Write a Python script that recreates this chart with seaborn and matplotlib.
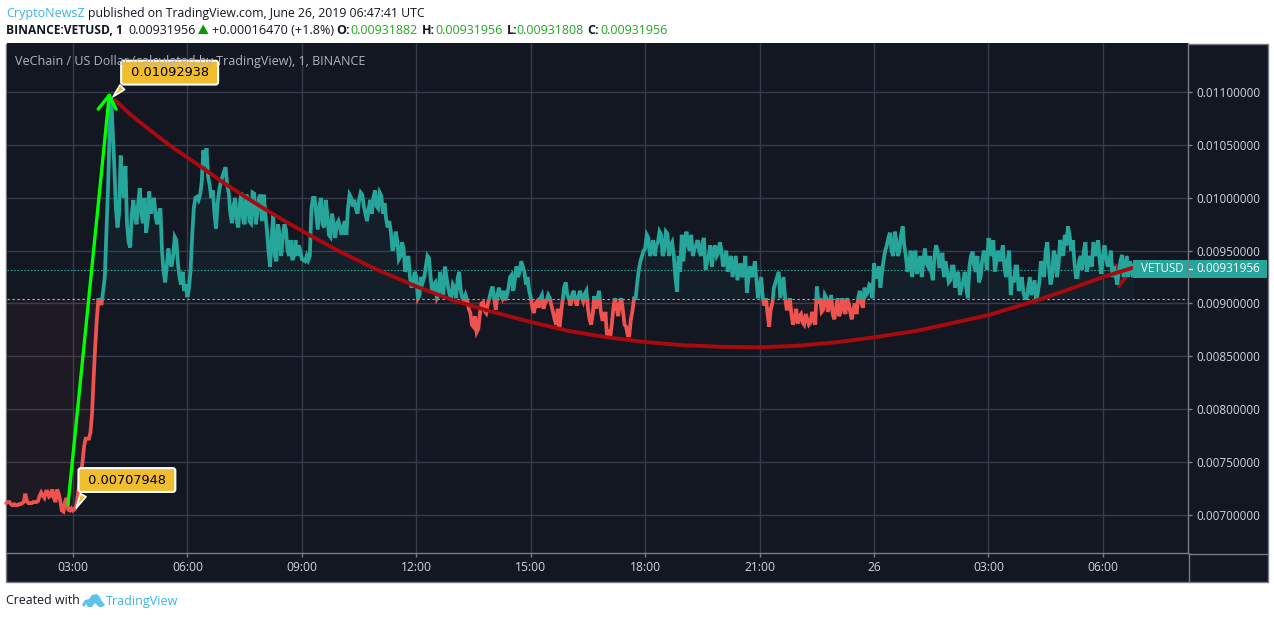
import numpy as np
import pandas as pd
import matplotlib
matplotlib.use("Agg")
import matplotlib.pyplot as plt
from matplotlib.patches import Rectangle, Polygon
from matplotlib.lines import Line2D
import seaborn as sns

W, H = 1274, 618
BG = "#131722"; GRID = "#363c4e"; TXT = "#d1d4dc"; EDGE = "#787b86"
TEAL = "#26a69a"; RED = "#ef5350"; DARKRED = "#a80a0f"; LIME = "#00ff00"
GOLD = "#f0bd2e"; BLUE = "#3bb3e4"; GREEN = "#1fa81f"

start_hour = 1.25
step_hours = 1 / 24
# prices in 1e-5 USD: p_* on the 5-minute marks, q_* between them
p_early = [711,712,709,709,710,711,720,711,711,712,713,721,716,722,718,716,724,713,703,716,704]
q_early = [712,710,710,709,710,712,713,711,712,712,718,718,722,717,724,712,720,704,712,705,706]
p_h03 = [704,708,730,750,772,772,796,860,905,900,925,1007]
q_h03 = [705,718,740,765,772,778,830,885,900,912,965,1060]
p_h04 = [1095,1030,972,1040,1000,975,953,998,975,1009,976,967]
q_h04 = [1064,990,985,1010,1030,958,985,982,995,985,1000,978]
p_h05 = [1006,995,982,985,950,920,952,935,963,938,918,912]
q_h05 = [985,1000,975,990,930,935,940,945,960,925,930,918]
p_h06 = [906,932,990,1001,1003,1045,1047,1012,1007,971,1007,1020]
q_h06 = [915,965,1000,998,1015,1030,1020,1000,985,995,1015,1025]
p_h07 = [1029,1005,976,1000,972,1005,975,1000,976,1004,985,1003]
q_h07 = [1012,985,992,978,995,980,1003,978,1005,975,1000,978]
p_h08 = [1003,970,935,985,940,965,962,970,945,941,960,955]
q_h08 = [985,950,962,945,975,945,975,950,960,945,945,950]
p_h09 = [942,940,941,990,1000,970,1000,972,985,963,975,975]
q_h09 = [941,945,945,1000,985,992,975,998,965,985,962,978]
p_h10 = [972,973,965,1003,992,990,998,1003,985,990,985,1007]
q_h10 = [965,978,990,1000,998,985,1005,992,978,998,1000,992]
p_h11 = [990,1002,995,972,968,955,960,945,952,935,925,920]
q_h11 = [1005,985,980,978,950,968,942,958,930,945,915,930]
p_h12 = [925,908,920,935,943,910,920,908,915,935,915,906]
q_h12 = [905,925,925,945,925,918,905,930,908,925,908,918]
p_h13 = [915,924,912,903,903,891,878,873,890,901,891,905]
q_h13 = [905,930,905,908,895,880,888,876,900,893,900,912]
p_h14 = [916,894,915,905,903,915,927,922,925,940,930,925]
q_h14 = [905,908,908,912,908,925,912,935,930,935,918,912]
p_h15 = [906,891,902,905,895,903,905,892,880,875,903,920]
q_h15 = [896,900,896,908,900,908,898,885,895,890,915,908]
p_h16 = [905,908,903,907,906,909,895,880,907,905,893,885]
q_h16 = [898,912,898,912,902,912,885,890,895,912,885,892]
p_h17 = [868,868,896,896,900,893,878,870,893,905,932,945]
q_h17 = [875,880,905,888,905,880,870,885,905,920,940,950]
p_h18 = [952,962,950,945,958,965,950,966,955,945,911,930]
q_h18 = [965,945,960,955,968,945,968,945,958,925,945,965]
p_h19 = [940,968,950,945,955,950,958,932,945,935,955,948]
q_h19 = [960,955,965,952,960,945,962,940,955,950,945,958]
p_h20 = [950,940,930,945,935,922,938,930,910,935,930,922]
q_h20 = [935,950,940,925,945,930,925,945,925,925,940,905]
p_h21 = [915,905,905,878,900,920,930,915,906,895,890,885]
q_h21 = [925,898,890,895,915,925,905,925,895,905,880,895]
p_h22 = [881,890,880,885,882,885,916,905,894,905,900,890]
q_h22 = [888,882,890,880,892,880,900,892,908,892,908,885]
p_h23 = [895,888,905,890,900,885,900,905,901,915,910,917]
q_h23 = [905,892,897,905,892,895,890,912,896,908,918,905]
p_h24 = [938,925,915,941,955,967,945,960,950,973,945,935]
q_h24 = [925,935,930,950,962,950,968,945,965,955,930,950]
p_h25 = [925,950,935,925,952,935,930,945,950,935,925,930]
q_h25 = [940,928,945,940,938,945,922,955,935,948,940,920]
p_h26 = [922,935,925,908,920,915,935,949,930,920,940,945]
q_h26 = [935,915,930,915,930,905,945,935,945,925,950,932]
p_h27 = [962,945,930,950,945,935,940,908,920,935,915,910]
q_h27 = [950,960,940,940,955,925,950,925,935,912,925,905]
p_h28 = [905,925,915,903,920,935,950,935,925,945,935,955]
q_h28 = [915,908,922,910,940,925,958,918,950,925,960,945]
p_h29 = [965,973,950,940,925,945,950,930,945,958,945,940]
q_h29 = [955,965,960,925,940,932,958,940,935,950,960,928]
p_h30 = [945,943,940,925,927,930,946,935,925,935,932]
q_h30 = [955,935,950,935,918,940,925,945,940,925]

p_blocks = [p_early,p_h03,p_h04,p_h05,p_h06,p_h07,p_h08,p_h09,p_h10,p_h11,p_h12,p_h13,p_h14,
            p_h15,p_h16,p_h17,p_h18,p_h19,p_h20,p_h21,p_h22,p_h23,p_h24,p_h25,p_h26,p_h27,
            p_h28,p_h29,p_h30]
q_blocks = [q_early,q_h03,q_h04,q_h05,q_h06,q_h07,q_h08,q_h09,q_h10,q_h11,q_h12,q_h13,q_h14,
            q_h15,q_h16,q_h17,q_h18,q_h19,q_h20,q_h21,q_h22,q_h23,q_h24,q_h25,q_h26,q_h27,
            q_h28,q_h29,q_h30]

baseline = 904
last_price = 931.956
peak = 1092.938
trough = 707.948

# drawn trend curve
trend_h = [4.10,4.5,5.02,5.6,6.33,7.0,7.56,8.09,8.6,9.19,10.0,10.97,12.04,12.96,14,15,16,17,18,19,20,21,22,23.1,24,25.1,26,27,28.27,29,30,30.76]
trend_p = [1092.5,1079,1064,1048,1030,1013,1000,988,977,965,949,932,915.6,903,892,882.5,874,868,863.5,860.5,859,858.5,860,863.6,868,874,881,889,903,912,925,933.6]
trend_tip_a_h = [30.42,30.7]
trend_tip_a_p = [916.6,930]
trend_tip_b_h = [30.23,30.76]
trend_tip_b_p = [937,931]
# drawn green arrow
arrow_h = [2.87,3.95]
arrow_p = [710,1097]
arrow_left_h = [3.66,3.95]
arrow_left_p = [1084,1097]
arrow_right_h = [4.13,3.95]
arrow_right_p = [1084,1097]

xticks_h = [3,6,9,12,15,18,21,24,27,30]
xtick_labels = ["03:00","06:00","09:00","12:00","15:00","18:00","21:00","26","03:00","06:00"]
yticks_p = [700,750,800,850,900,950,1000,1050,1100]

P = np.concatenate(p_blocks).astype(float)
Q = np.concatenate(q_blocks).astype(float)
prices = np.empty(len(P) + len(Q))
prices[::2] = P
prices[1::2] = Q
df = pd.DataFrame({"hour": start_hour + np.arange(len(prices)) * step_hours, "price": prices})

sns.set_theme(style="dark")
plt.rcParams["font.family"] = ["Open Sans", "DejaVu Sans"]

fig = plt.figure(figsize=(W / 100, H / 100), dpi=100, facecolor="white")

def fx(x): return x / W
def fy(y): return 1 - y / H

fig.patches.append(Rectangle((fx(6.5), fy(581.5)), 1261 / W, 538 / H, transform=fig.transFigure,
                             fc=BG, ec=EDGE, lw=1, zorder=0))
ax = fig.add_axes([fx(7), fy(553), 1181 / W, 510 / H], facecolor=BG, zorder=1)
ax.set_xticks(xticks_h, xtick_labels)
ax.set_yticks(yticks_p, [f"{v / 1e5:.8f}" for v in yticks_p])
ax.set_xlim(1.27, 32.23)
ax.set_ylim(663.8, 1146.6)
ax.yaxis.tick_right()
ax.grid(True, color=GRID, lw=1)
ax.set_axisbelow(True)
ax.tick_params(axis="x", colors=TXT, labelsize=8.7, length=3, width=1, color=EDGE, pad=2.5, bottom=True)
ax.tick_params(axis="y", colors=TXT, labelsize=8.45, length=3, width=1, color=EDGE, pad=3, right=True, left=False)
for s in ["top", "left"]:
    ax.spines[s].set_visible(False)
for s in ["bottom", "right"]:
    ax.spines[s].set_color(EDGE); ax.spines[s].set_linewidth(1); ax.spines[s].set_visible(True)
fig.add_artist(Line2D([fx(1188.5)] * 2, [fy(553), fy(581)], color=EDGE, lw=1, zorder=2))
fig.add_artist(Line2D([fx(1188.5), fx(1267)], [fy(553.5)] * 2, color=EDGE, lw=1, zorder=2))

ax.fill_between(df.hour, df.price, baseline, where=df.price >= baseline, interpolate=True, color=TEAL, alpha=0.06, lw=0)
ax.fill_between(df.hour, df.price, baseline, where=df.price <= baseline, interpolate=True, color=RED, alpha=0.05, lw=0)
ax.axhline(baseline, color="#b2b5be", lw=0.8, ls=(0, (2, 2.5)))
ax.axhline(last_price, color=TEAL, lw=0.8, ls=(0, (1.5, 1.5)), zorder=3)

for color, y0, y1, z in [(TEAL, baseline, 2000, 4), (RED, 0, baseline, 4)]:
    before = len(ax.lines)
    sns.lineplot(data=df, x="hour", y="price", ax=ax, color=color, lw=2.7, errorbar=None, estimator=None, legend=False, zorder=z)
    line = ax.lines[before]
    line.set_solid_joinstyle("miter")
    clip = Rectangle((0, y0), 100, y1 - y0, transform=ax.transData)
    line.set_clip_path(clip)
ax.set_xlabel(""); ax.set_ylabel("")

ax.plot(trend_h, trend_p, color=DARKRED, lw=2.8, zorder=5, solid_capstyle="round")
ax.plot(trend_tip_a_h, trend_tip_a_p, color=DARKRED, lw=2.8, zorder=3.5)
ax.plot(trend_tip_b_h, trend_tip_b_p, color=DARKRED, lw=2.8, zorder=3.5)
ax.plot(arrow_h, arrow_p, color=LIME, lw=2.4, zorder=6)
ax.plot(arrow_left_h, arrow_left_p, color=LIME, lw=2.4, zorder=6)
ax.plot(arrow_right_h, arrow_right_p, color=LIME, lw=2.4, zorder=6)

callout_font = dict(fontsize=9.3, color="black", family=["DejaVu Sans"], va="center", ha="center", zorder=8)
bbox = dict(boxstyle="round,pad=0.42,rounding_size=0.2", fc=GOLD, ec="white", lw=1.5)
ax.annotate(f" {peak / 1e5:.8f} ", xy=(4.0, peak + 1), xytext=(58.5, 26), textcoords="offset pixels",
            bbox=bbox, arrowprops=dict(arrowstyle="wedge,tail_width=0.5,shrink_factor=0.5", fc=GOLD, ec="white", lw=1.2, relpos=(0.05, 0.05)), **callout_font)
ax.annotate(f" {trough / 1e5:.8f} ", xy=(3.05, 704), xytext=(52, 30.5), textcoords="offset pixels",
            bbox=bbox, arrowprops=dict(arrowstyle="wedge,tail_width=0.5,shrink_factor=0.5", fc=GOLD, ec="white", lw=1.2, relpos=(0.05, 0.05)), **callout_font)

# chart title
fig.text(fx(15), fy(61), "VeChain / US Dollar (calculated by TradingView), 1, BINANCE", color="#b2b5be", fontsize=9.0, va="center", zorder=5)

# price tags
fig.patches.append(Rectangle((fx(1133), fy(278)), 55 / W, 18 / H, transform=fig.transFigure, fc=TEAL, ec="none", zorder=6))
fig.patches.append(Rectangle((fx(1189), fy(278)), 78 / W, 18 / H, transform=fig.transFigure, fc=TEAL, ec="none", zorder=6))
fig.add_artist(Line2D([fx(1189), fx(1192)], [fy(269)] * 2, color="white", lw=1, zorder=7))
fig.text(fx(1141), fy(269), "VETUSD", color="white", fontsize=8.3, fontweight="medium", va="center", zorder=7)
fig.text(fx(1196), fy(269), f"{last_price / 1e5:.8f}", color="white", fontsize=8.45, va="center", zorder=7)

# header
def t(x, y, s, color="#131722", weight="normal", size=9):
    fig.text(fx(x), fy(y), s, color=color, fontsize=size, fontweight=weight, va="center")

t(6, 13.5, "CryptoNewsZ", BLUE)
t(88, 13.5, "published on TradingView.com, June 26, 2019 06:47:41 UTC", size=8.83)
t(6, 30.5, "BINANCE:VETUSD, 1", weight="bold", size=8.65)
t(128, 30.5, "0.00931956")
fig.patches.append(Polygon([(fx(198), fy(34)), (fx(208.5), fy(34)), (fx(203.2), fy(24.5))], transform=fig.transFigure, fc="#089a08", ec="none"))
t(212, 30.5, "+0.00016470 (+1.8%)", size=9.1)
for xl, lab, xv, val in [(336.5, "O:", 350.5, "0.00931882"), (421.5, "H:", 435, "0.00931956"),
                         (506.5, "L:", 516.5, "0.00931808"), (587.5, "C:", 600.5, "0.00931956")]:
    t(xl, 30.5, lab, weight="bold")
    t(xv, 30.5, val, GREEN)

# footer
t(6, 601, "Created with", size=8.9)
t(106, 601, "TradingView", BLUE)
logo_top = [(82,605),(85,600),(89,599),(92,595),(97,594),(100,597),(101,600),(105,605),(102,607),(99,607),(95,603),(92,607),(88,607),(86,604),(84,607)]
fig.patches.append(Polygon([(fx(a), fy(b)) for a, b in logo_top], transform=fig.transFigure, fc="#5cc3ea", ec="none"))

fig.savefig("out.png", dpi=100, facecolor="white")
